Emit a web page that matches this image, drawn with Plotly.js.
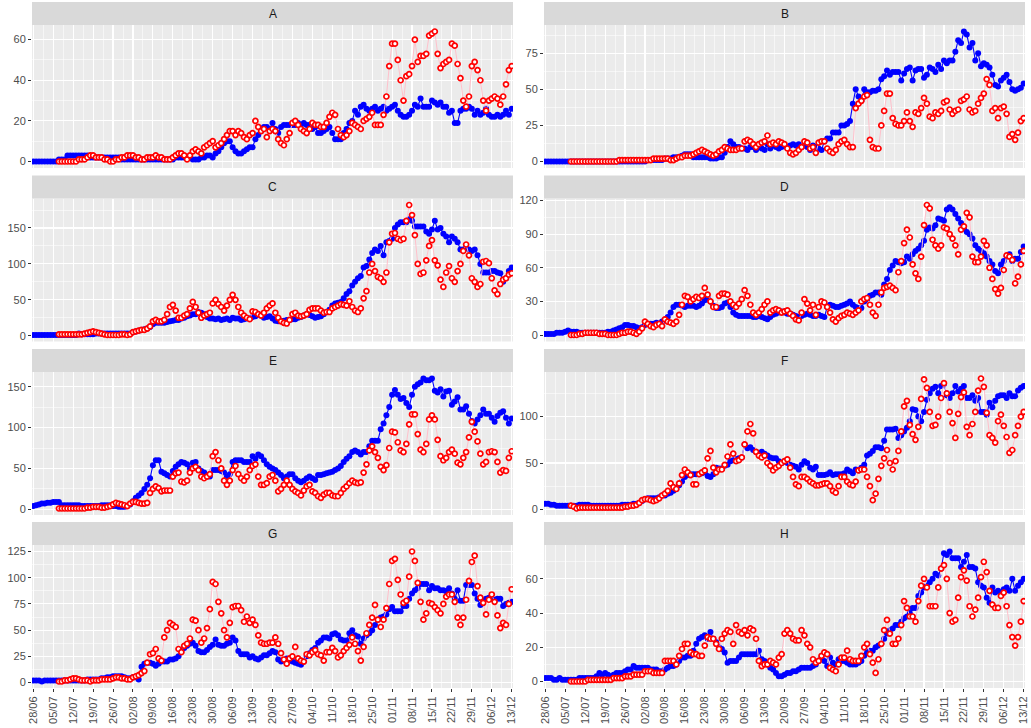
<!DOCTYPE html>
<html><head><meta charset="utf-8">
<script src="https://cdn.plot.ly/plotly-3.0.1.min.js"></script>
<style>html,body{margin:0;padding:0;background:#fff}#chart{width:1031px;height:728px}</style>
</head><body><div id="chart"></div>
<script>
const panels = ['A','B','C','D','E','F','G','H'];
const blueStart = '2020-06-28';
const redStart = '2020-07-07';

const blueA = [0,0,0,0,0,0,0, 0,0,1,1,1,3,3, 3,3,3,3,3,3,2, 2,2,2,2,2,2,2, 2,2,2,1,1,1,1, 1,1,1,1,1,1,1, 1,1,1,1,1,1,1, 1,2,2,2,2,2,2, 1,1,1,2,2,3,3, 2,4,5,7,9,10,10, 7,5,4,4,5,6,7, 7,11,13,15,17,17,16, 19,16,14,17,18,18,18, 18,18,19,18,19,18,18, 16,17,14,14,15,16,17, 14,11,11,11,14,16,19, 20,25,23,27,28,26,25, 26,27,25,26,27,25,26, 27,28,25,23,22,22,23, 25,28,27,31,27,27,27, 30,29,28,29,27,27,24, 25,19,19,25,26,26,27, 26,23,25,23,24,26,23, 22,22,23,22,23,25,23, 26];
const redA = [0,0,0,0,0, 0,0,1,1,1,2,3, 3,2,2,2,1,1,0, 0,1,1,2,2,3,3, 3,2,2,1,1,2,2, 2,3,2,2,1,1,1, 2,3,4,4,3,1,3, 5,6,5,4,7,8,9, 10,7,8,9,11,13,15, 15,13,15,14,12,11,13, 14,20,17,15,16,12,15, 16,15,11,9,8,11,14, 19,20,18,16,15,14,16, 19,18,18,17,17,19,22, 24,23,16,13,12,13,15, 19,18,17,16,20,21,22, 24,18,18,18,23,32,47, 58,58,50,40,30,42,43, 47,60,49,52,52,53,62, 63,64,53,46,48,49,50, 58,57,48,41,30,27,32, 47,49,45,40,30,25,30, 31,32,31,28,32,38,45, 47];

const blueB = [0,0,0,0,0,0,0, 0,0,0,0,0,0,0, 0,0,0,0,0,0,0, 0,0,0,0,0,0,0, 0,0,0,0,0,0,0, 0,1,1,1,1,1,1, 2,2,2,3,3,3,4, 5,5,5,3,3,3,3, 3,3,2,2,2,3,3, 6,10,14,12,10,10,9, 9,8,10,10,8,10,9, 8,12,9,11,10,9,10, 11,10,11,12,11,12,10, 11,10,8,11,10,9,8, 14,16,16,20,20,20,25, 25,26,28,40,50,45,42, 50,48,48,49,49,50,57, 59,63,60,62,62,62,56, 61,64,65,56,63,64,64, 58,60,65,64,62,67,64, 70,68,70,70,76,84,82, 90,88,79,82,70,75,66, 68,67,65,60,53,52,56, 58,60,55,50,49,50,51, 54];
const redB = [0,0,0,0,0, 0,0,0,0,0,0,0, 0,0,0,0,0,1,1, 1,1,1,1,1,1,1, 1,1,1,2,2,2,2, 2,2,1,1,2,3,3, 4,4,4,5,6,7,8, 7,6,5,4,5,7,8, 10,9,8,8,8,9,9, 14,15,14,12,10,12,13, 14,18,12,13,12,14,13, 12,9,6,5,6,8,10, 14,13,9,10,6,13,14, 14,9,7,6,8,12,14, 15,12,10,10,37,40,42, 45,46,15,10,9,9,25, 35,47,47,30,26,25,25, 28,34,28,24,34,33,37, 44,40,31,30,34,33,35, 41,42,36,33,35,36,42, 43,45,36,34,35,40,44, 47,57,53,35,37,30,37, 38,33,17,19,15,20,28, 30];

const blueC = [1,1,1,1,1,1,1, 1,1,1,1,1,1,1, 1,1,3,2,2,2,2, 2,3,3,3,3,3,3, 3,3,3,3,3,3,3, 5,6,7,8,9,10,12, 16,18,18,18,18,19,20, 21,22,22,24,25,27,28, 30,30,33,32,30,26,24, 24,23,24,22,23,24,22, 25,24,24,22,23,24,24, 26,27,30,28,25,26,27, 24,21,20,21,21,22,22, 23,23,25,26,28,30,29, 27,25,26,27,30,33,36, 42,45,46,47,52,58,62, 70,75,80,83,95,97,106, 115,120,118,125,112,130,132, 135,150,155,158,158,158,162, 160,152,152,152,152,145,142, 148,160,148,150,142,138,130, 138,135,130,120,120,122,120, 118,120,112,100,88,88,88, 90,90,88,87,75,80,90, 95];
const redC = [2,2,2,2,2, 2,2,2,2,3,4,5, 6,5,4,3,2,1,1, 1,1,1,2,2,1,2, 5,6,7,8,8,10,13, 20,22,20,20,22,30,40, 43,35,25,25,28,30,38, 47,40,32,25,28,30,32, 45,50,44,40,35,42,50, 57,50,40,32,28,25,23, 34,33,30,28,32,38,42, 45,32,25,20,18,17,22, 30,32,28,27,28,30,36, 38,38,38,35,32,33,33, 38,40,42,44,43,42,48, 40,35,33,38,52,62,88, 100,90,82,80,75,88,130, 142,143,135,133,135,160,182, 168,140,100,86,88,105,125, 133,105,98,78,68,88,97, 80,75,90,100,118,127,112, 80,75,68,72,103,104,101, 80,63,58,72,78,80,85, 87];

const blueD = [1,1,1,1,2,2,2, 3,4,3,3,3,2,2, 2,2,2,2,2,2,2, 2,3,3,4,5,6,7, 9,9,8,8,7,6,7, 9,10,10,10,11,10,12, 13,16,20,25,27,27,26, 25,26,26,26,25,26,28, 31,33,30,26,24,24,25, 28,29,25,20,18,17,17, 17,17,17,16,16,17,16, 15,14,16,18,19,20,21, 20,19,19,18,17,16,17, 18,19,18,17,17,18,17, 16,25,27,26,25,25,26, 27,28,30,27,25,24,24, 30,32,35,36,38,38,36, 45,50,58,62,66,65,64, 65,70,68,72,75,77,80, 84,94,96,95,98,104,103, 102,112,114,112,108,104,100, 95,92,90,86,80,77,75, 73,70,66,63,57,55,63, 66,70,72,66,68,68,74, 79];
const redD = [0,0,0,1,1, 2,2,2,2,2,1,1, 1,0,0,0,0,1,2, 2,3,3,2,1,3,6, 12,10,8,7,9,10,8, 14,12,11,10,12,18,27, 35,34,30,32,34,33,35, 42,36,30,25,25,35,37, 37,36,30,27,25,28,32, 40,35,27,20,18,20,23, 27,30,20,22,23,22,20, 21,22,19,17,14,13,20, 32,28,22,27,18,25,30, 29,25,20,14,12,15,17, 18,20,19,18,20,22,30, 32,33,27,20,17,27,38, 42,43,44,42,40,56,66, 82,94,87,63,55,50,70, 98,116,113,85,80,77,80, 96,95,90,86,80,72,94, 97,109,105,70,65,65,70, 84,80,60,50,41,37,42, 58,71,70,67,46,52,63, 75];

const blueE = [4,5,6,7,7,8,8, 9,9,9,5,5,5,5, 5,5,5,4,4,4,4, 4,4,4,5,5,5,5, 4,4,3,3,3,4,6, 10,14,17,20,25,30,38, 54,60,60,46,44,42,40, 47,52,55,58,57,55,50, 57,58,50,47,45,42,40, 48,48,48,47,45,40,43, 58,60,60,60,58,58,58, 65,62,67,65,60,55,52, 50,48,45,42,38,40,43, 43,38,35,33,35,38,40, 38,36,42,42,43,44,45, 46,48,50,53,58,62,65, 70,72,70,67,70,70,77, 84,84,84,98,105,115,125, 140,146,140,135,136,130,125, 140,150,153,155,160,158,158, 160,145,143,147,138,144,145, 128,132,137,122,122,126,117, 108,105,110,115,122,117,117, 112,107,114,118,120,112,105, 111];
const redE = [1,1,1,1,1, 1,1,1,1,1,2,2, 3,3,3,2,2,3,4, 6,8,7,6,5,4,7, 9,9,8,7,7,8,20, 25,28,26,22,23,23,23, 40,44,45,34,33,35,45, 50,52,48,40,38,40,43, 65,70,60,50,35,30,35, 48,53,43,38,35,40,48, 53,55,40,30,30,32,40, 42,35,22,25,30,35,30, 25,22,20,17,23,28,30, 22,20,16,14,18,20,20, 17,16,16,20,25,28,32, 35,33,32,33,45,55,72, 77,70,63,52,48,54,75, 95,94,82,72,70,80,104, 116,116,92,73,70,80,110, 115,110,85,65,60,63,70, 73,68,57,55,63,70,88, 107,95,83,68,55,58,70, 71,70,58,45,48,47,63, 71];

const blueF = [6,6,5,5,4,4,4, 4,4,4,4,4,5,5, 5,5,4,4,4,4,4, 4,4,4,4,4,4,5, 5,5,5,6,6,7,9, 11,12,12,12,12,13,15, 15,17,18,20,22,26,30, 35,37,38,38,38,38,39, 40,36,35,38,45,44,44, 47,48,52,53,54,55,56, 70,66,67,64,62,60,62, 60,58,56,55,55,52,50, 52,50,48,47,46,43,48, 52,50,45,43,46,37,37, 37,38,40,37,38,38,38, 39,43,41,39,43,42,45, 48,58,60,63,67,67,66, 74,86,86,86,87,77,80, 84,88,95,108,107,100,95, 105,118,125,130,132,125,133, 135,123,120,125,133,127,130, 133,120,120,123,117,120,105, 105,102,115,110,117,122,123, 123,120,125,122,122,128,131, 133];
const redF = [4,3,1,2,2, 2,2,2,2,2,2,2, 2,2,2,2,2,2,2, 3,3,4,4,5,7,10, 11,11,10,9,10,12,15, 17,20,28,24,22,28,37, 43,40,37,27,27,38,40, 42,55,63,45,40,43,43, 48,57,70,60,52,53,56, 70,84,92,82,62,58,56, 58,50,47,42,45,47,50, 52,54,45,35,27,25,35, 35,33,30,28,26,26,27, 28,28,25,20,18,25,35, 35,30,27,26,30,42,43, 43,35,25,10,17,33,47, 55,64,50,43,52,63,84, 111,117,91,81,75,89,119, 140,131,105,90,91,100,120, 136,125,105,93,77,103,121, 126,89,80,92,105,128,141, 132,104,80,77,72,95,102, 90,78,61,64,80,90,100, 105];

const blueG = [2,2,2,1,2,2,2, 2,2,2,2,2,2,2, 2,2,2,2,2,3,3, 3,3,3,4,4,5,5, 6,6,6,6,5,4,4, 5,5,3,15,18,19,19, 18,16,18,20,20,20,22, 22,23,25,30,33,35,37, 38,35,30,29,29,31,34, 36,41,36,35,35,37,38, 43,40,30,27,27,27,24, 25,23,22,24,26,26,28, 30,29,22,20,21,23,22, 20,19,18,17,20,25,28, 31,33,38,40,43,43,42, 46,47,45,41,40,40,47, 50,45,44,37,42,45,47, 50,55,60,62,63,65,70, 72,68,68,68,73,73,80, 85,88,90,94,94,94,88, 92,90,90,88,88,87,90, 85,80,88,78,78,93,93, 93,85,80,74,78,80,81, 80,79,80,80,73,75,76, 77];
const redG = [1,1,2,2,3, 4,4,3,2,2,2,1, 2,2,2,3,3,3,3, 4,5,5,4,4,3,3, 5,6,7,9,11,19,27, 28,32,23,21,43,50,57, 55,53,32,29,35,37,42, 60,59,50,38,42,52,70, 96,94,77,66,50,43,57, 72,73,73,69,58,63,57, 60,55,45,38,37,37,38, 38,43,37,28,22,18,23, 25,34,23,21,20,27,26, 29,31,27,26,21,29,29, 33,30,24,26,30,33,36, 43,37,30,21,34,47,55, 62,74,60,53,60,71,94, 116,118,98,84,76,78,101, 125,116,95,77,60,66,76, 75,72,69,66,75,82,84, 84,77,62,55,62,79,97, 115,121,92,81,76,65,79, 84,77,64,52,57,55,75, 89];

const blueH = [2,2,2,1,1,2,1, 1,1,1,1,1,2,2, 2,2,2,2,3,5,4, 5,4,3,4,5,5,5, 6,7,7,9,8,8,8, 8,8,7,7,7,6,6, 7,8,9,9,10,12,14, 14,15,15,18,22,25,26, 27,25,29,25,23,20,19, 17,11,12,12,12,14,16, 16,16,16,16,16,18,13, 12,10,8,7,5,3,3, 4,5,5,6,6,7,8, 8,8,8,9,10,12,14, 12,9,14,11,10,13,12, 12,11,10,10,10,11,12, 15,17,18,18,20,21,22, 25,28,30,31,33,33,35, 37,38,40,43,43,50,52, 55,56,58,60,63,62,66, 75,74,76,72,72,72,67, 70,74,67,67,66,58,56, 55,49,46,55,52,53,52, 54,55,53,60,53,56,58, 60];
const redH = [0,0,0,0,0, 0,1,1,1,1,1,1, 1,1,1,2,2,2,2, 3,3,3,4,4,4,4, 6,6,6,5,5,5,5, 12,12,12,12,10,15,19, 22,22,17,16,16,15,15, 21,26,25,25,22,19,25, 28,30,29,22,33,29,28, 30,27,31,30,25,12,9, 10,10,12,11,10,14,16, 28,30,28,25,24,24,30, 27,22,20,13,11,12,15, 17,16,8,7,6,10,14, 14,18,13,12,12,12,15, 20,22,16,11,5,13,22, 30,36,28,22,22,25,33, 47,43,38,38,35,47,56, 60,55,44,44,44,55,66, 68,60,40,35,36,49,61, 65,59,44,38,42,49,61, 70,64,53,45,43,43,50, 52,44,33,26,21,26,35, 47];

const blueSeries = [blueA, blueB, blueC, blueD, blueE, blueF, blueG, blueH];
const redSeries = [redA, redB, redC, redD, redE, redF, redG, redH];
const yTickStep = [20, 25, 50, 30, 50, 50, 25, 20];

function makeDates(start, n) {
  const t0 = Date.parse(start + 'T00:00:00Z');
  const out = [];
  for (let i = 0; i < n; i++) out.push(new Date(t0 + i * 864e5).toISOString().slice(0, 10));
  return out;
}

const W = 1031, H = 728;
const cols = [[32, 513], [544, 1025]];
const rows = [[25, 168], [198.5, 341.5], [372, 515], [545, 688]];
const stripH = 23;
const font = 'Liberation Sans, Arial, sans-serif';
const WEEK = 7 * 864e5;

const traces = [];
const layout = {
  width: W, height: H,
  margin: {l: 0, r: 0, t: 0, b: 0},
  paper_bgcolor: '#FFFFFF', plot_bgcolor: '#EBEBEB',
  showlegend: false, hovermode: false,
  shapes: [], annotations: []
};

panels.forEach((name, i) => {
  const k = i + 1;
  const c = cols[i % 2], r = rows[Math.floor(i / 2)];
  const isBottom = Math.floor(i / 2) === 3;
  const b = blueSeries[i], rd = redSeries[i];
  const bx = makeDates(blueStart, b.length), rx = makeDates(redStart, rd.length);
  const all = b.concat(rd);
  const mn = Math.min(...all), mx = Math.max(...all), span = mx - mn;

  traces.push({type: 'scatter', mode: 'lines+markers', x: bx, y: b,
    xaxis: 'x' + k, yaxis: 'y' + k, cliponaxis: true,
    line: {color: '#0000FF', width: 1.1},
    marker: {color: '#0000FF', size: 6}, hoverinfo: 'skip'});
  traces.push({type: 'scatter', mode: 'lines+markers', x: rx, y: rd,
    xaxis: 'x' + k, yaxis: 'y' + k, cliponaxis: true,
    line: {color: '#FFC0CB', width: 1},
    marker: {symbol: 'circle', color: '#FFFFFF', size: 5, line: {color: '#FF0000', width: 1.7}}, hoverinfo: 'skip'});

  layout['xaxis' + k] = {
    type: 'date', domain: [c[0] / W, c[1] / W], anchor: 'y' + k,
    range: ['2020-06-27 13:00', '2020-12-13 11:00'],
    tick0: '2020-06-28', dtick: WEEK, tickformat: '%d/%m', tickangle: -90,
    showticklabels: isBottom, ticks: isBottom ? 'outside' : '', ticklen: 3, tickwidth: 1, tickcolor: '#333333',
    tickfont: {family: font, size: 11, color: '#4D4D4D'},
    showgrid: true, gridcolor: '#FFFFFF', gridwidth: 1.1,
    minor: {tick0: '2020-06-28', dtick: WEEK / 2, showgrid: true, gridcolor: '#FFFFFF', gridwidth: 0.55, ticks: ''},
    zeroline: false, showline: false, fixedrange: true
  };
  layout['yaxis' + k] = {
    domain: [1 - r[1] / H, 1 - r[0] / H], anchor: 'x' + k,
    range: [mn - 0.05 * span, mx + 0.05 * span],
    tick0: 0, dtick: yTickStep[i],
    ticks: 'outside', ticklen: 3, tickwidth: 1, tickcolor: '#333333',
    tickfont: {family: font, size: 11, color: '#4D4D4D'},
    showgrid: true, gridcolor: '#FFFFFF', gridwidth: 1.1,
    minor: {tick0: 0, dtick: yTickStep[i] / 2, showgrid: true, gridcolor: '#FFFFFF', gridwidth: 0.55, ticks: ''},
    zeroline: false, showline: false, fixedrange: true
  };
  layout.shapes.push({type: 'rect', xref: 'paper', yref: 'paper', layer: 'below',
    x0: c[0] / W, x1: c[1] / W, y0: 1 - r[0] / H, y1: 1 - (r[0] - stripH) / H,
    fillcolor: '#D9D9D9', line: {width: 0}});
  layout.annotations.push({xref: 'paper', yref: 'paper', x: (c[0] + c[1]) / 2 / W,
    y: 1 - (r[0] - stripH / 2) / H, text: name, showarrow: false,
    xanchor: 'center', yanchor: 'middle', font: {family: font, size: 12, color: '#1A1A1A'}});
});

Plotly.newPlot('chart', traces, layout, {displayModeBar: false, staticPlot: true});
</script>
</body></html>
